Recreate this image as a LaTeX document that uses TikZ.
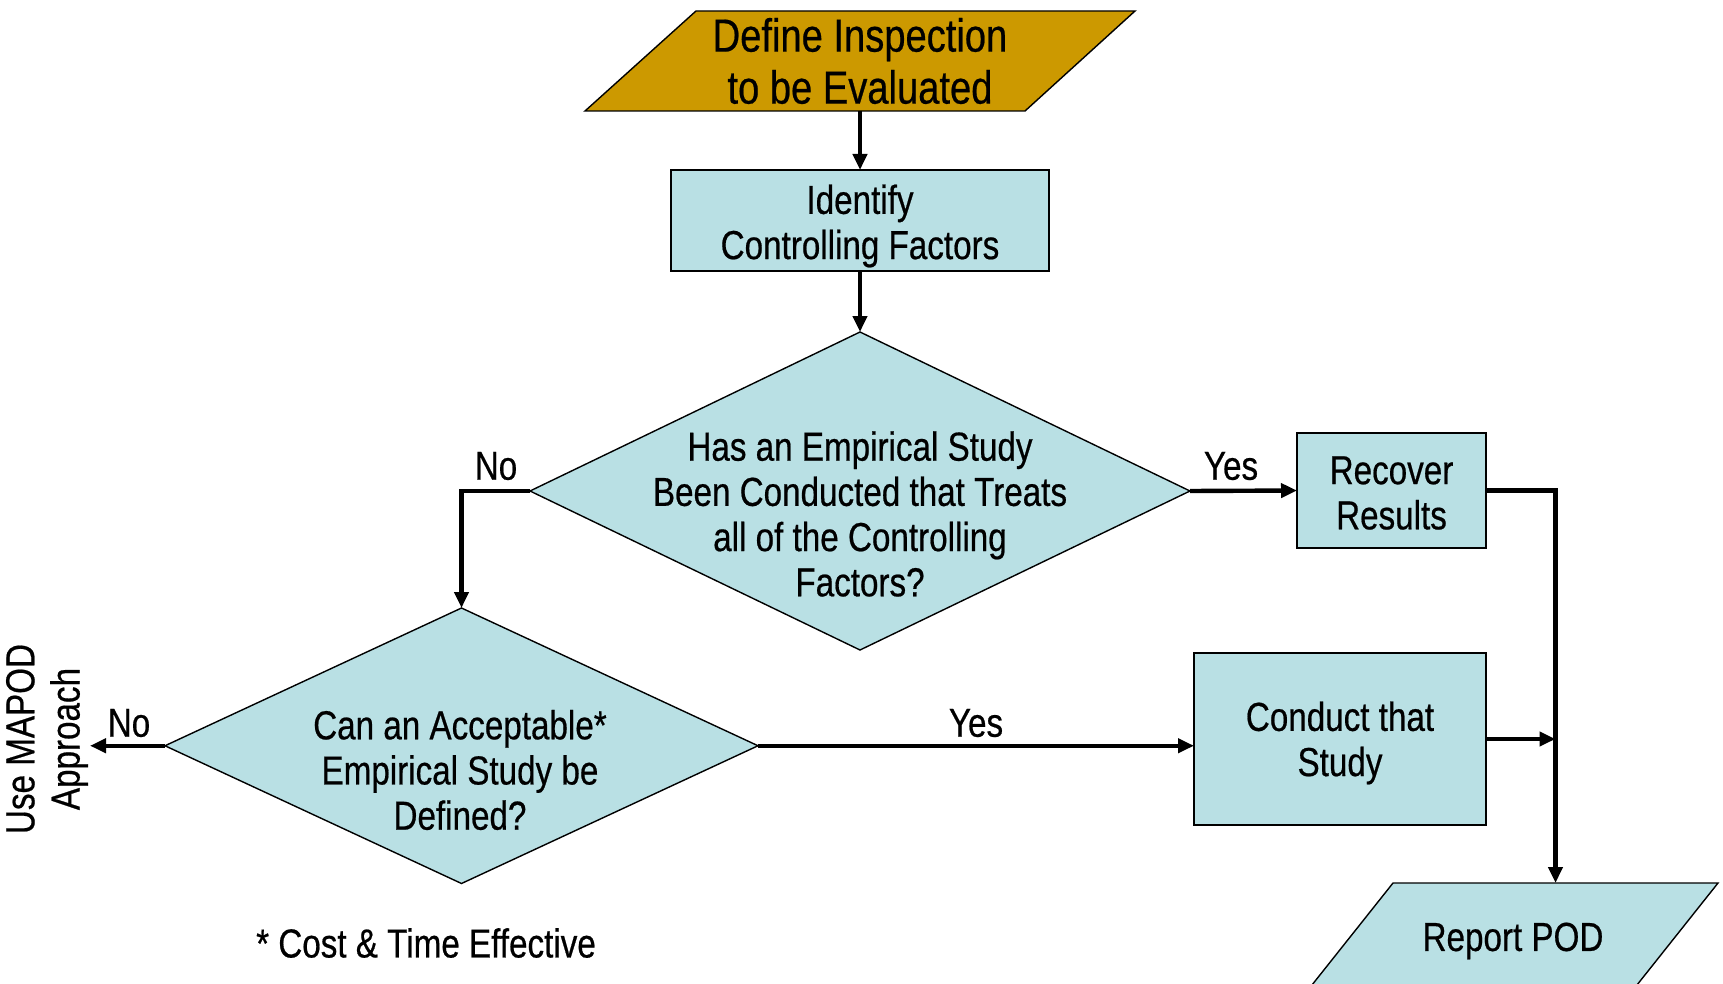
\documentclass[tikz,border=0pt]{standalone}
\usepackage{fontspec}
\setmainfont{Liberation Sans}[FakeStretch=0.82,FakeBold=0.5]
\usetikzlibrary{arrows.meta,shapes.geometric}

\definecolor{boxfill}{RGB}{185,224,228}
\definecolor{startfill}{RGB}{204,153,0}

\begin{document}
\begin{tikzpicture}[x=0.5pt,y=-0.5pt,
  every node/.style={inner sep=0pt, outer sep=0pt},
  body/.style={font=\fontsize{20.25pt}{22.6pt}\selectfont, align=center},
  titletext/.style={font=\fontsize{23.25pt}{26pt}\selectfont, align=center},
  shapeline/.style={draw=black, line width=0.7pt},
  procbox/.style={shapeline, fill=boxfill, rectangle},
  decision/.style={shapeline, fill=boxfill, diamond},
  frame/.style={rectangle, draw=none},
  flow/.style={line width=2.2pt, -{Triangle[length=8pt,width=7pt]}},
]
\useasboundingbox (0,0) rectangle (1723,984);
\clip (0,0) rectangle (1723,984);

% start: parallelogram
\draw[shapeline, fill=startfill] (696,11) -- (1135,11) -- (1025,111) -- (585,111) -- cycle;
\node[frame, minimum width=220pt, minimum height=50pt] (define) at (860,61) {};
\node[titletext] (definetext) at (860,61) {Define Inspection\\to be Evaluated};

% process boxes
\node[procbox, minimum width=189pt, minimum height=50.5pt] (identify) at (860,220.5) {};
\node[body] (identifytext) at (860,226) {Identify\\Controlling Factors};
\node[procbox, minimum width=94.5pt, minimum height=57.5pt] (recover) at (1391.5,490.5) {};
\node[body] (recovertext) at (1391.5,493) {Recover\\Results};
\node[procbox, minimum width=146pt, minimum height=86pt] (conduct) at (1340,739) {};
\node[body] (conducttext) at (1340,743) {Conduct that\\Study};

% decisions
\node[decision, minimum width=330pt, minimum height=159pt] (d1) at (860,491) {};
\node[body] (d1text) at (860,514)
  {Has an Empirical Study\\Been Conducted that Treats\\all of the Controlling\\Factors?};
\node[decision, minimum width=296.5pt, minimum height=137.75pt] (d2) at (461.5,745.75) {};
\node[body] (d2text) at (460,770)
  {Can an Acceptable*\\Empirical Study be\\Defined?};

% end: parallelogram, running past the lower edge
\draw[shapeline, fill=boxfill] (1393,883) -- (1718,883) -- (1629,995) -- (1304,995) -- cycle;
\node[frame, minimum width=162.5pt, minimum height=50pt] (report) at (1555.5,933) {};
\node[body] (reporttext) at (1513,941) {Report POD};

% outcome of the left branch
\coordinate (mapod) at (90,745.75);
\node[body, rotate=90] (mapodtext) at (47,739) {Use MAPOD\\Approach};

% connectors
\draw[flow] (define.south) -- (identify.north);
\draw[flow] (identify.south) -- (d1.north);
\draw[flow] (d1.west) -| (d2.north);
\draw[flow] (d1.east) -- (recover.west);
\draw[flow] (d2.west) -- (mapod);
\draw[flow] (d2.east) -- (d2.east -| conduct.west);
\draw[flow] (recover.east) -| (report.north);
\draw[flow] (conduct.east) -- (conduct.east -| report.north);

% branch labels
\node[body] (no1) at (496,466) {No};
\node[body] (yes1) at (1231,466) {Yes};
\node[body] (no2) at (129,723) {No};
\node[body] (yes2) at (976,723) {Yes};

% footnote
\node[body] (note) at (426,943) {* Cost \& Time Effective};
\end{tikzpicture}
\end{document}
